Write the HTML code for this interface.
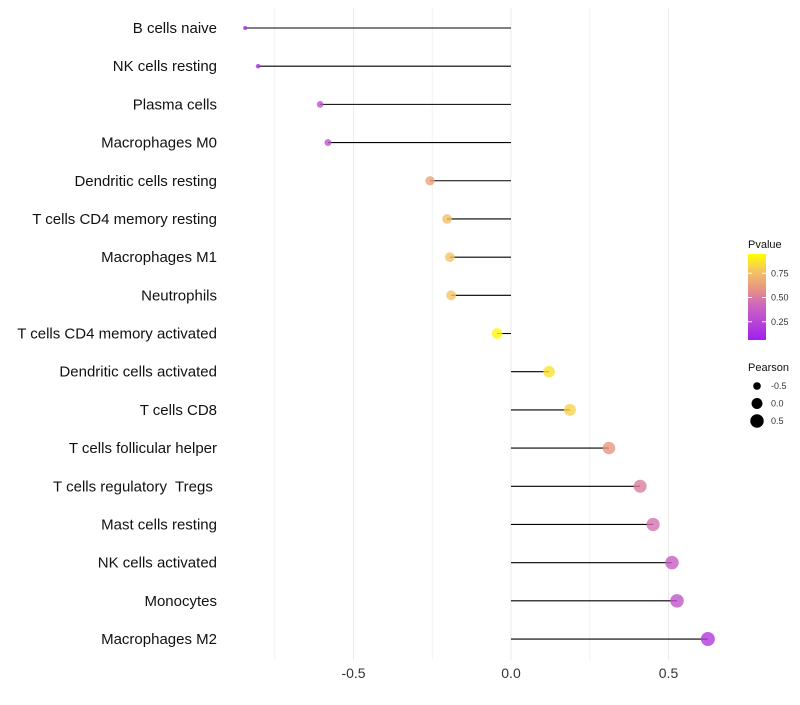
<!DOCTYPE html>
<html><head><meta charset="utf-8"><style>
body{margin:0;background:#fff;font-family:"Liberation Sans",sans-serif}
text{white-space:pre}
</style></head><body>
<svg id="c" width="800" height="700" xmlns="http://www.w3.org/2000/svg"></svg>
<script>
const categories=["B cells naive","NK cells resting","Plasma cells","Macrophages M0","Dendritic cells resting","T cells CD4 memory resting","Macrophages M1","Neutrophils","T cells CD4 memory activated","Dendritic cells activated","T cells CD8","T cells follicular helper","T cells regulatory  Tregs ","Mast cells resting","NK cells activated","Monocytes","Macrophages M2"];
const pearson=[-0.844,-0.803,-0.606,-0.581,-0.257,-0.203,-0.194,-0.19,-0.044,0.121,0.187,0.311,0.41,0.451,0.511,0.527,0.625];
const pvalue=[0.05,0.08,0.3,0.3,0.65,0.78,0.8,0.8,0.98,0.9,0.85,0.6,0.5,0.45,0.35,0.3,0.15];
const xTicks=[-0.5,0,0.5];
const xTickLabels=["-0.5","0.0","0.5"];
const gridMinor=[-0.75,-0.25,0.25];
const legendP=[0.25,0.5,0.75];
const legendS=[-0.5,0,0.5];
const NS="http://www.w3.org/2000/svg";
const svg=document.getElementById('c');
const x=v=>511+v*315;
const y=i=>28+i*38.19;
const r=v=>Math.sqrt(Math.max(1,29.8+30.6*v));
const stops=[[0,[160,32,240]],[0.4,[204,102,190]],[0.6,[232,150,130]],[0.8,[245,196,100]],[1,[255,255,0]]];
function color(p){for(let k=1;k<stops.length;k++){if(p<=stops[k][0]){const a=stops[k-1],b=stops[k];const t=(p-a[0])/(b[0]-a[0]);
 return 'rgb('+a[1].map((c,j)=>Math.round(c+(b[1][j]-c)*t)).join(',')+')';}}return 'rgb(255,255,0)';}
function el(t,a,txt){const e=document.createElementNS(NS,t);for(const k in a)e.setAttribute(k,a[k]);if(txt!=null)e.textContent=txt;svg.appendChild(e);return e;}
gridMinor.forEach(v=>{const g=el('line',{x1:x(v),x2:x(v),y1:8,y2:660,stroke:'#f2f2f2','stroke-width':1});

});
xTicks.forEach((v,i)=>{const g=el('line',{x1:x(v),x2:x(v),y1:8,y2:660,stroke:'#ebebeb','stroke-width':1});


const t=el('text',{x:x(v),y:678,'text-anchor':'middle','font-size':14,fill:'#333'},xTickLabels[i]);

});
categories.forEach((c,i)=>{
 const t=el('text',{x:217,y:y(i)+5,'text-anchor':'end','font-size':15,fill:'#111'},c);
 
 
 const l=el('line',{x1:x(0),x2:x(pearson[i]),y1:y(i),y2:y(i),stroke:'#000','stroke-width':1.1});
 
 
 const d=el('circle',{cx:x(pearson[i]),cy:y(i),r:r(pearson[i]),fill:color(pvalue[i]),'fill-opacity':0.8});
 
 
});
const lt=el('text',{x:748,y:248,'font-size':11,fill:'#111'},'Pvalue');


const defs=el('defs',{});
defs.innerHTML='<linearGradient id="gr" x1="0" y1="1" x2="0" y2="0">'+stops.map(s=>'<stop offset="'+s[0]+'" stop-color="rgb('+s[1].join(',')+')"/>').join('')+'</linearGradient>';
const bar=el('rect',{x:748,y:254,width:18,height:86,fill:'url(#gr)'});


const ly=p=>346-p*97;
legendP.forEach(p=>{el('line',{x1:748,x2:752,y1:ly(p),y2:ly(p),stroke:'#fff'});el('line',{x1:762,x2:766,y1:ly(p),y2:ly(p),stroke:'#fff'});
 const t=el('text',{x:771,y:ly(p)+3,'font-size':9,fill:'#333'},p.toFixed(2));
 
 });
const st=el('text',{x:748,y:371,'font-size':11,fill:'#111'},'Pearson');


legendS.forEach((s,i)=>{const cy=386+i*17.5;
 const d=el('circle',{cx:757,cy:cy,r:r(s),fill:'#000'});
 
 
 const t=el('text',{x:771,y:cy+3,'font-size':9,fill:'#333'},xTickLabels[i]);
 
 });
</script>
</body></html>
